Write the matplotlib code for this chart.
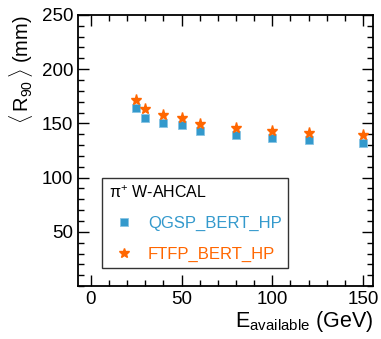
import matplotlib
matplotlib.use("Agg")
import matplotlib.pyplot as plt
from matplotlib.ticker import MultipleLocator

plt.rcParams['font.family'] = ['Liberation Sans', 'DejaVu Sans']
plt.rcParams['mathtext.fontset'] = 'custom'
plt.rcParams['mathtext.rm'] = 'Liberation Sans'
plt.rcParams['mathtext.it'] = 'Liberation Sans:italic'

# data
energy = [25, 30, 40, 50, 60, 80, 100, 120, 150]
r90_qgsp = [163.9, 155.3, 150.3, 148.1, 142.9, 139.2, 136.1, 134.3, 131.8]
r90_ftfp = [171.9, 163.3, 157.4, 155.0, 149.7, 145.7, 143.2, 141.2, 139.5]

blue = '#3399cc'
orange = '#ff6600'

fig = plt.figure(figsize=(3.81, 3.39), dpi=100)
ax = fig.add_axes([0.205, 0.156, 0.774, 0.800])

ax.plot(energy, r90_qgsp, ls='none', marker='s', ms=5.6, color=blue,
        mec='#88c4e4', mew=0.6, label='QGSP_BERT_HP')
ax.plot(energy, r90_ftfp, ls='none', marker='*', ms=8, color=orange,
        mec=orange, label='FTFP_BERT_HP')

ax.set_xlim(-7, 155.5)
ax.set_ylim(0, 250)
ax.xaxis.set_major_locator(MultipleLocator(50))
ax.xaxis.set_minor_locator(MultipleLocator(10))
ax.yaxis.set_major_locator(MultipleLocator(50))
ax.yaxis.set_minor_locator(MultipleLocator(10))
ax.tick_params(which='both', direction='in', top=True, right=True,
               labelsize=13.5, width=1.0)
ax.tick_params(which='major', length=8)
ax.tick_params(which='minor', length=4)
ax.set_yticks([50, 100, 150, 200, 250])
for s in ax.spines.values():
    s.set_linewidth(1.3)

ax.set_ylabel(r'$\langle\,\mathrm{R}_{90}\,\rangle$ (mm)', fontsize=14.5,
              loc='top', labelpad=5)
ax.set_xlabel(r'E$_{\mathrm{available}}$ (GeV)', fontsize=15.5, loc='right',
              labelpad=1)

leg = ax.legend(loc='lower left', bbox_to_anchor=(0.081, 0.066),
                title='π$^{+}$ W-AHCAL', title_fontsize=11.5,
                fontsize=12, frameon=True, fancybox=False,
                edgecolor='black', handlelength=1.8, handletextpad=0.55,
                borderpad=0.4, labelspacing=0.9, borderaxespad=0)
leg.get_frame().set_linewidth(1.0)
leg._legend_box.align = 'left'
for t, c in zip(leg.get_texts(), [blue, orange]):
    t.set_color(c)
leg.legend_handles[0].set_markersize(5.2)
leg.legend_handles[1].set_markersize(7)

fig.savefig('out.png', dpi=100)
